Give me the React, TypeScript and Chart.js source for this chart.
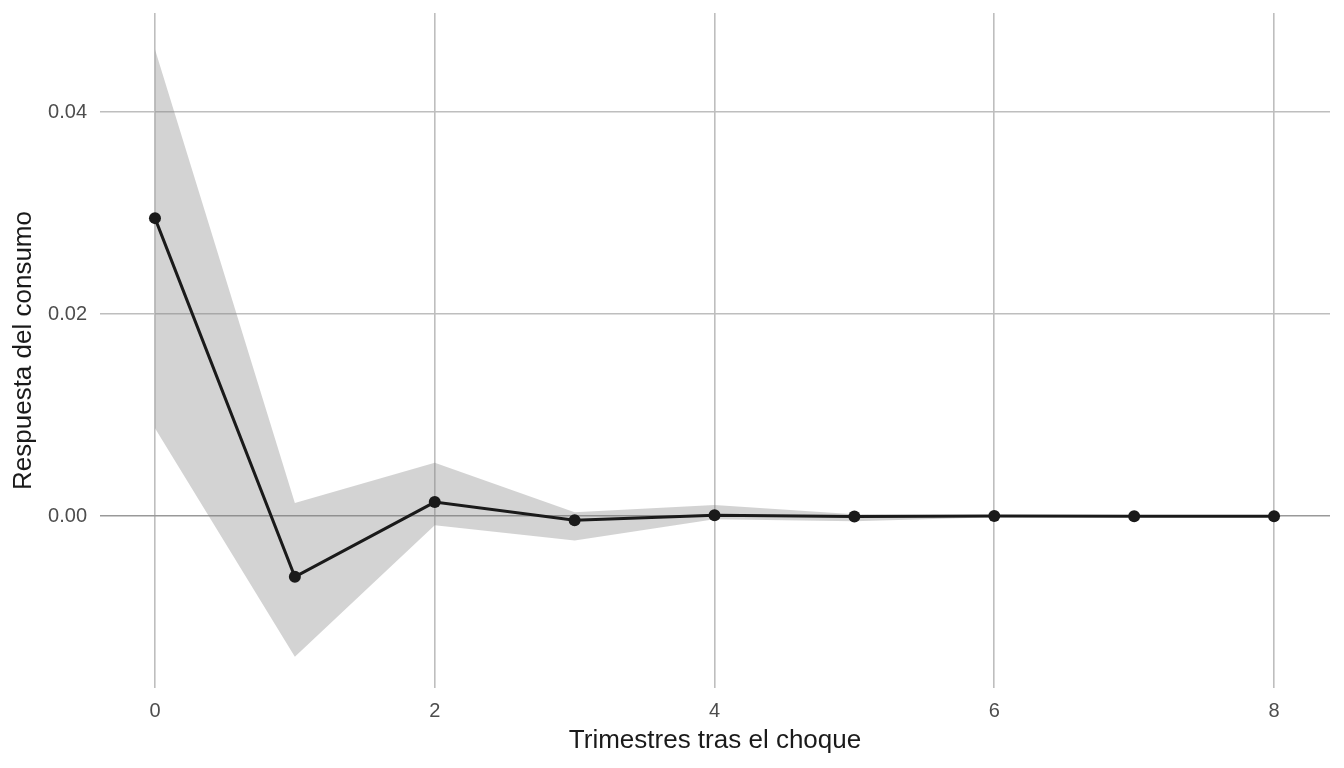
import React, { useEffect, useRef } from "react";
import { Chart, registerables } from "chart.js";
Chart.register(...registerables);

const quarters = [0, 1, 2, 3, 4, 5, 6, 7, 8];
const response = [0.0295, -0.006, 0.0014, -0.0004, 0.0001, -0.00003, 0.00003, 0.0, 0.0];
const upperBand = [0.0462, 0.0013, 0.0053, 0.0004, 0.0011, 0.0002, 0.0001, 0.00005, 0.00003];
const lowerBand = [0.0087, -0.0139, -0.0009, -0.0024, -0.0003, -0.0005, -0.0001, -0.00005, -0.00003];
const xTickValues = [0, 2, 4, 6, 8];
const yTickValues = [0, 0.02, 0.04];
const yTickLabels = ["0.00", "0.02", "0.04"];
const xTitle = "Trimestres tras el choque";
const yTitle = "Respuesta del consumo";

export default function App() {
  const ref = useRef<HTMLCanvasElement | null>(null);
  useEffect(() => {
    document.body.style.margin = "0";
    const canvas = ref.current;
    if (!canvas) return;
    const font = "'Liberation Sans', Arial, Helvetica, sans-serif";
    const chart = new Chart(canvas, {
      type: "line",
      data: {
        datasets: [
          {
            label: "upper",
            data: quarters.map((q, i) => ({ x: q, y: upperBand[i] })),
            borderWidth: 0,
            pointRadius: 0,
            backgroundColor: "rgba(128,128,128,0.35)",
            fill: "+1",
            order: 2,
          },
          {
            label: "lower",
            data: quarters.map((q, i) => ({ x: q, y: lowerBand[i] })),
            borderWidth: 0,
            pointRadius: 0,
            fill: false,
            order: 2,
          },
          {
            label: "response",
            data: quarters.map((q, i) => ({ x: q, y: response[i] })),
            borderColor: "#1a1a1a",
            borderWidth: 3,
            pointRadius: 6,
            pointBorderWidth: 0,
            pointBackgroundColor: "#1a1a1a",
            fill: false,
            order: 1,
          },
        ],
      },
      options: {
        animation: false,
        responsive: true,
        maintainAspectRatio: false,
        layout: { padding: { top: 13, right: 14, left: 0, bottom: 0 } },
        plugins: { legend: { display: false }, tooltip: { enabled: false } },
        scales: {
          x: {
            type: "linear",
            min: -0.393,
            max: 8.4,
            afterBuildTicks: (axis: any) => {
              axis.ticks = xTickValues.map((v) => ({ value: v }));
            },
            afterFit: (axis: any) => {
              axis.height = 80;
              axis.paddingLeft = 0;
              axis.paddingRight = 0;
            },
            border: { display: false },
            grid: { color: "#bebebe", lineWidth: 1.6, drawTicks: false },
            ticks: {
              padding: 11,
              color: "#4d4d4d",
              font: { family: font, size: 20 },
              callback: (v: any) => String(v),
            },
            title: {
              display: true,
              text: xTitle,
              color: "#1a1a1a",
              font: { family: font, size: 26 },
              padding: { top: 0, bottom: 12 },
            },
          },
          y: {
            type: "linear",
            min: -0.017,
            max: 0.0498,
            afterBuildTicks: (axis: any) => {
              axis.ticks = yTickValues.map((v) => ({ value: v }));
            },
            afterFit: (axis: any) => {
              axis.width = 100;
              axis.paddingTop = 0;
              axis.paddingBottom = 0;
            },
            border: { display: false },
            grid: {
              color: (ctx: any) => (ctx.tick && ctx.tick.value === 0 ? "#999999" : "#bebebe"),
              lineWidth: 1.6,
              drawTicks: false,
            },
            ticks: {
              padding: 13,
              color: "#4d4d4d",
              font: { family: font, size: 20 },
              callback: (v: any) => {
                const i = yTickValues.indexOf(v);
                return i >= 0 ? yTickLabels[i] : "";
              },
            },
            title: {
              display: true,
              text: yTitle,
              color: "#1a1a1a",
              font: { family: font, size: 26 },
              padding: { top: 8, bottom: 0 },
            },
          },
        },
      },
    });
    return () => chart.destroy();
  }, []);
  return (
    <div style={{ width: 1344, height: 768, position: "relative" }}>
      <canvas ref={ref} />
    </div>
  );
}
